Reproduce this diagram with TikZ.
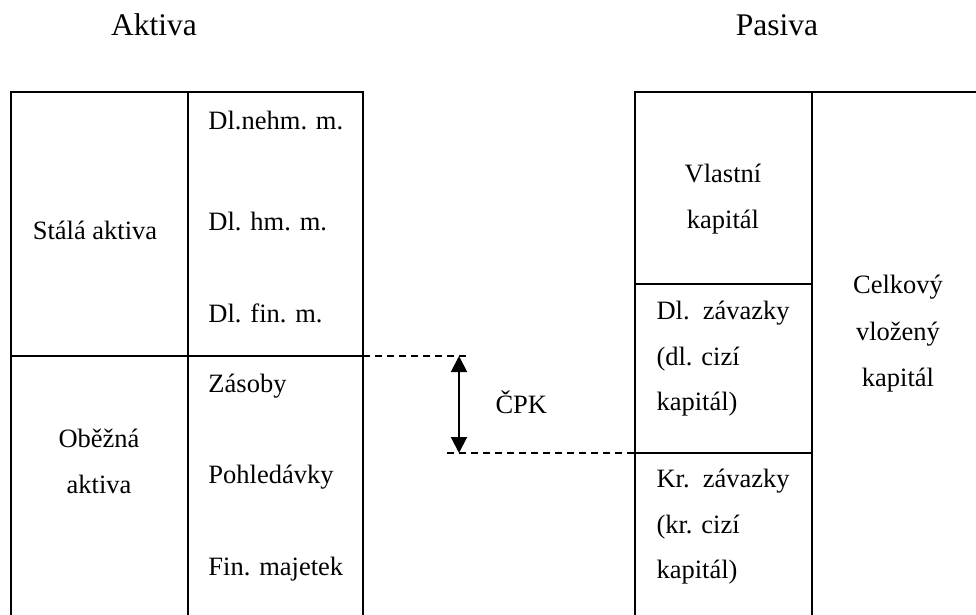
\documentclass[tikz,border=0pt]{standalone}
\usepackage{fontspec}
\setmainfont{Liberation Serif}
\usetikzlibrary{arrows.meta}

\tikzset{
  box/.style={line width=0.8pt},
  guide/.style={line width=0.6pt,dash pattern=on 2.8pt off 2pt},
  lbl/.style={anchor=base west,inner sep=0pt,font=\fontsize{10.6}{13}\selectfont},
  clbl/.style={anchor=base,inner sep=0pt,font=\fontsize{10.6}{13}\selectfont},
  head/.style={anchor=base,inner sep=0pt,font=\fontsize{12.6}{15}\selectfont},
}

\begin{document}
\begin{tikzpicture}[x=0.4pt,y=-0.4pt]
\useasboundingbox (0,0) rectangle (976,615);
\clip (0,0) rectangle (976,615);

\node[head] (aktiva) at (154,35) {Aktiva};
\node[head] (pasiva) at (777,35) {Pasiva};

% aktiva
\draw[box] (11,650) -- (11,92) -- (363,92) -- (363,650);
\draw[box] (188,92) -- (188,650);
\draw[box] (11,356) -- (363,356);

\node[clbl] (stala) at (95,239) {Stálá aktiva};
\node[clbl] (obezna) at (99,447) {Oběžná};
\node[clbl] (obeznab) at (99,493) {aktiva};

\node[lbl] (nehm) at (208,129) {Dl.nehm. m.};
\node[lbl] (hm) at (208,230) {Dl. hm. m.};
\node[lbl] (fin) at (208,322) {Dl. fin. m.};
\node[lbl] (zasoby) at (208,392) {Zásoby};
\node[lbl] (pohl) at (208,483) {Pohledávky};
\node[lbl] (finmaj) at (208,575) {Fin. majetek};

% pasiva
\draw[box] (635,650) -- (635,92) -- (990,92);
\draw[box] (812,92) -- (812,650);
\draw[box] (635,284) -- (812,284);
\draw[box] (635,453) -- (812,453);

\node[clbl] (vk) at (723,182) {Vlastní};
\node[clbl] (vkb) at (723,228) {kapitál};

\node[lbl] (dlz) at (656,319) {Dl.\ \ závazky};
\node[lbl] (dlzb) at (656,365) {(dl. cizí};
\node[lbl] (dlzc) at (656,410) {kapitál)};
\node[lbl] (krz) at (656,487) {Kr.\ \ závazky};
\node[lbl] (krzb) at (656,533) {(kr. cizí};
\node[lbl] (krzc) at (656,578) {kapitál)};

\node[clbl] (celk) at (898,293) {Celkový};
\node[clbl] (celkb) at (898,340) {vložený};
\node[clbl] (celkc) at (898,386) {kapitál};

% CPK
\coordinate (hitop) at (363,356);
\coordinate (hiend) at (468,356);
\coordinate (lostart) at (447,453);
\coordinate (loend) at (635,453);
\coordinate (cpktop) at (459,356);
\coordinate (cpkbot) at (459,453);
\draw[guide] (hitop) -- (hiend);
\draw[guide] (lostart) -- (loend);
\draw[line width=0.8pt,{Triangle[length=6.4pt,width=6.4pt]}-{Triangle[length=6.4pt,width=6.4pt]}] (cpktop) -- (cpkbot);
\node[lbl] (cpk) at (495,413) {ČPK};
\end{tikzpicture}
\end{document}
